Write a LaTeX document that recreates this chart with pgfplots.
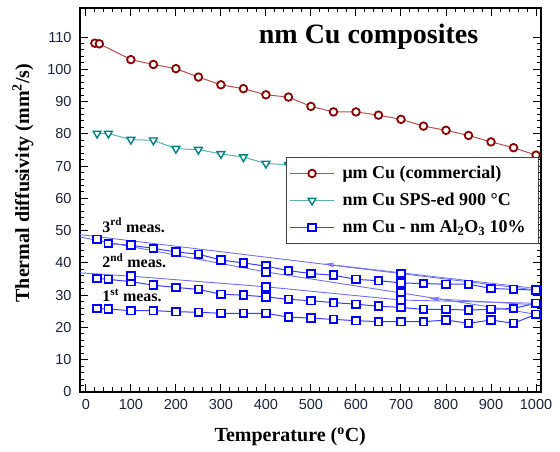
\documentclass[border=0pt]{standalone}
\usepackage{fontspec}
\setmainfont{Liberation Serif}
\newfontfamily\tickfont{Liberation Sans}
\usepackage{pgfplots}
\pgfplotsset{compat=1.18}
\usetikzlibrary{arrows.meta}

\definecolor{cuRed}{RGB}{139,0,0}
\definecolor{cuRedLine}{RGB}{185,80,80}
\definecolor{spsTeal}{RGB}{0,128,128}
\definecolor{spsLine}{RGB}{90,175,175}
\definecolor{alBlue}{RGB}{0,0,255}
\definecolor{alLine}{RGB}{60,60,255}
\definecolor{alThin}{RGB}{110,110,255}
\definecolor{tickNavy}{RGB}{25,35,60}

\begin{document}
\begin{tikzpicture}
\begin{axis}[
  scale only axis, width=461pt, height=384pt,
  xmin=-13, xmax=1011, ymin=0, ymax=119,
  xtick={0,100,...,1000}, ytick={0,10,...,110},
  minor x tick num=4, minor y tick num=4,
  tick align=inside, major tick length=8pt, minor tick length=4.5pt,
  axis line style={line width=2pt},
  every tick/.style={black, line width=1pt},
  tick label style={font=\tickfont\fontsize{14.5}{16}\selectfont, text=tickNavy},
  xticklabel style={yshift=-4pt, /pgf/number format/1000 sep={}},
  yticklabel style={xshift=-5pt},
  /pgf/number format/assume math mode=true,
  xlabel={Temperature (\textsuperscript{o}C)},
  ylabel={Thermal diffusivity (mm\textsuperscript{2}/s)},
  label style={font=\bfseries\fontsize{20}{24}\selectfont},
  xlabel style={at={(axis description cs:0.456,-0.117)}, anchor=center},
  ylabel style={at={(axis description cs:-0.124,0.544)}, anchor=center},
  legend style={at={(0.996,0.612)}, anchor=north east, draw=black!75,
    line width=1pt, fill=white, font=\bfseries\fontsize{18}{21}\selectfont,
    inner xsep=3pt, inner ysep=7pt, row sep=9pt,
    /tikz/every odd column/.append style={column sep=6pt}},
  legend cell align=left,
  legend image code/.code={\draw[mark repeat=2,mark phase=2]
    plot coordinates {(0pt,0pt) (22pt,0pt) (44pt,0pt)};},
]
% um Cu (commercial)
\addplot[cuRedLine, line width=1pt, mark=*, mark size=3.8pt,
  mark options={draw=cuRed, fill=white, line width=1.8pt}]
  coordinates {(20,108.1) (30,107.9) (100,103.0) (150,101.5) (200,100.2)
  (250,97.6) (300,95.2) (350,94.0) (400,92.1) (450,91.4) (500,88.5)
  (550,86.8) (600,86.8) (650,85.8) (700,84.5) (750,82.4) (800,81.1)
  (850,79.5) (900,77.5) (950,75.7) (1000,73.4)};
\addlegendentry{μm Cu (commercial)}
% nm Cu SPS-ed 900 C
\addplot[spsLine, line width=1pt, mark=triangle*, mark size=4.5pt,
  mark options={draw=spsTeal, fill=white, line width=1.4pt, rotate=180}]
  coordinates {(25,80.1) (50,80.1) (100,78.2) (150,78.0) (200,75.4)
  (250,75.1) (300,73.8) (350,72.8) (400,70.8) (450,70.4) (500,69.5)};
\addlegendentry{nm Cu SPS-ed 900 °C}
% nm Cu - nm Al2O3 10%, 1st meas. heating
\addplot[alLine, line width=1pt, mark=square*, mark size=3.8pt,
  mark options={draw=alBlue, fill=white, line width=1.8pt}]
  coordinates {(25,25.9) (50,25.7) (100,25.2) (150,25.2) (200,24.9)
  (250,24.7) (300,24.4) (350,24.4) (400,24.4) (450,23.2) (500,22.9)
  (550,22.5) (600,22.1) (650,21.8) (700,21.8) (750,21.8) (800,22.3)
  (850,21.3) (900,22.3) (950,21.3) (1000,24.1)};
\addlegendentry{nm Cu - nm Al\textsubscript{2}O\textsubscript{3} 10\%\rule{8pt}{0pt}}
% 2nd meas. heating
\addplot[alLine, line width=1pt, mark=square*, mark size=3.8pt,
  mark options={draw=alBlue, fill=white, line width=1.8pt}, forget plot]
  coordinates {(25,35.2) (50,34.9) (100,34.2) (150,33.1) (200,32.4)
  (250,31.8) (300,30.3) (350,30.0) (400,29.5) (450,28.7) (500,28.3)
  (550,27.7) (600,27.2) (650,26.6) (700,26.2) (750,25.6) (800,25.6)
  (850,25.4) (900,25.6) (950,25.9) (1000,27.5)};
% 3rd meas. heating
\addplot[alLine, line width=1pt, mark=square*, mark size=3.8pt,
  mark options={draw=alBlue, fill=white, line width=1.8pt}, forget plot]
  coordinates {(25,47.3) (50,46.0) (100,45.5) (150,44.5) (200,43.4)
  (250,42.7) (300,40.9) (350,40.0) (400,39.0) (450,37.6) (500,36.7)
  (550,36.2) (600,34.9) (650,34.5) (700,33.8) (750,33.6) (800,33.4)
  (850,33.4) (900,32.1) (950,31.8) (1000,31.6)};
% cooling runs
\addplot[alThin, line width=0.9pt, mark=square*, mark size=3.8pt,
  mark indices={2,3}, mark options={draw=alBlue, fill=white, line width=1.8pt}, forget plot]
  coordinates {(1000,24.1) (700,30.7) (400,37.2) (-20,48.2)};
\addplot[alThin, line width=0.9pt, mark=square*, mark size=3.8pt,
  mark indices={2,3,4}, mark options={draw=alBlue, fill=white, line width=1.8pt}, forget plot]
  coordinates {(1000,27.5) (700,28.5) (400,32.6) (100,35.9) (-20,37.0)};
\addplot[alThin, line width=0.9pt, mark=square*, mark size=3.8pt,
  mark indices={2}, mark options={draw=alBlue, fill=white, line width=1.8pt}, forget plot]
  coordinates {(1000,31.6) (700,36.7) (-20,48.9)};
% cooling arrows
\draw[alThin, line width=0.8pt, -{Stealth[length=10pt, width=5pt, open]}]
  (axis cs:1000,32.1) -- (axis cs:530,39.7);
\draw[alThin, line width=0.8pt, -{Stealth[length=10pt, width=5pt, open]}]
  (axis cs:1000,27.0) -- (axis cs:764,29.0);
% annotations
\node[font=\bfseries\fontsize{28}{31}\selectfont] at (axis cs:628,110) {nm Cu composites};
\node[anchor=west, font=\bfseries\fontsize{16}{18}\selectfont] at (axis cs:29,51.7) {3\textsuperscript{rd} meas.};
\node[anchor=west, font=\bfseries\fontsize{16}{18}\selectfont] at (axis cs:29,40.6) {2\textsuperscript{nd} meas.};
\node[anchor=west, font=\bfseries\fontsize{16}{18}\selectfont] at (axis cs:29,30.0) {1\textsuperscript{st} meas.};
\end{axis}
\pgfresetboundingbox
\path[use as bounding box] ([shift={(-80pt,-60pt)}]current axis.south west)
  rectangle ([shift={(19pt,8pt)}]current axis.north east);
\end{tikzpicture}
\end{document}
